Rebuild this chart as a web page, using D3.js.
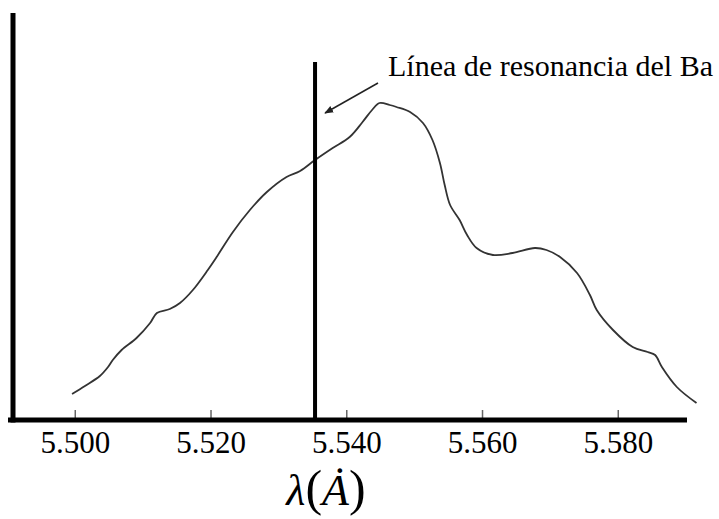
<!DOCTYPE html>
<html>
<head>
<meta charset="utf-8">
<title>Linea de resonancia del Ba</title>
<script src="https://cdn.jsdelivr.net/npm/d3@7"></script>
<style>
  body { margin: 0; background: #fff; }
  svg text { font-family: "Liberation Serif", "Times New Roman", serif; fill: #000; }
</style>
</head>
<body>
<script>
// wavelength (in units of the axis) and relative intensity
var wavelength = [5.4996, 5.5015, 5.5037, 5.5049, 5.5056, 5.5069, 5.5091, 5.5111, 5.5121, 5.5140,
                  5.5155, 5.5174, 5.5196, 5.5209, 5.5233, 5.5258, 5.5283, 5.5312, 5.5332, 5.5354,
                  5.5380, 5.5405, 5.5424, 5.5438, 5.5449, 5.5464, 5.5474, 5.5494, 5.5513, 5.5527,
                  5.5538, 5.5545, 5.5553, 5.5567, 5.5578, 5.5592, 5.5616, 5.5645, 5.5678, 5.5695,
                  5.5715, 5.5740, 5.5759, 5.5769, 5.5793, 5.5822, 5.5844, 5.5855, 5.5865, 5.5887,
                  5.5916];
var intensity = [6.5, 8.5, 11, 13.25, 15, 17.5, 20.5, 24.25, 26.75, 27.75,
                 29.25, 32.5, 37.5, 40.75, 47, 52.5, 57, 60.75, 62.25, 65,
                 68, 70.75, 74.5, 77.5, 79.25, 78.75, 78.25, 77, 74.25, 70,
                 64.25, 58.75, 53.75, 50, 46.25, 43, 41.25, 41.75, 43, 42.5,
                 40.75, 36.75, 31.25, 27.5, 22.5, 18.25, 17, 16.25, 13.25, 8.25,
                 4.25];
var tickValues = [5.500, 5.520, 5.540, 5.560, 5.580];
var tickLabels = ["5.500", "5.520", "5.540", "5.560", "5.580"];
var baLine = 5.5354;
var baLabel = "Línea de resonancia del Ba";

var W = 719, H = 519;
var x0 = 13, x1 = 687, yBase = 420, yTop = 13;
var serif = "'Liberation Serif', 'Times New Roman', serif";

var x = d3.scaleLinear().domain([5.4909, 5.5902]).range([x0, x1]);
var y = d3.scaleLinear().domain([0, 100]).range([yBase, 20]);

var svg = d3.select("body").append("svg")
    .attr("width", W)
    .attr("height", H);

// ticks (pointing up, inside the plot)
var axis = d3.axisBottom(x)
    .tickValues(tickValues)
    .tickFormat(function(d, i) { return tickLabels[i]; })
    .tickSizeInner(-9)
    .tickSizeOuter(0)
    .tickPadding(10);

var gx = svg.append("g")
    .attr("transform", "translate(0," + (yBase - 1) + ")")
    .attr("font-family", serif)
    .call(axis);
gx.attr("font-family", serif);
gx.select(".domain").remove();
gx.selectAll(".tick line").attr("stroke", "#666").attr("stroke-width", 1.5);
gx.selectAll(".tick text")
    .style("font-family", serif)
    .style("font-size", "31px")
    .attr("y", 34)
    .attr("dy", null);

// axes
svg.append("line")
    .attr("x1", x0).attr("x2", x0)
    .attr("y1", yTop).attr("y2", yBase + 2.5)
    .attr("stroke", "#000").attr("stroke-width", 5);
svg.append("line")
    .attr("x1", x0 - 5).attr("x2", x1)
    .attr("y1", yBase).attr("y2", yBase)
    .attr("stroke", "#000").attr("stroke-width", 5);

// spectrum
var line = d3.line()
    .x(function(d, i) { return x(wavelength[i]); })
    .y(function(d) { return y(d); })
    .curve(d3.curveCatmullRom);

svg.append("path")
    .attr("d", line(intensity))
    .attr("fill", "none")
    .attr("stroke", "#333")
    .attr("stroke-width", 1.8);

// Ba resonance line
svg.append("line")
    .attr("x1", x(baLine)).attr("x2", x(baLine))
    .attr("y1", 62).attr("y2", yBase)
    .attr("stroke", "#000").attr("stroke-width", 4);

// arrow + label
svg.append("defs").append("marker")
    .attr("id", "head")
    .attr("viewBox", "0 0 10 10")
    .attr("refX", 9).attr("refY", 5)
    .attr("markerWidth", 9).attr("markerHeight", 9)
    .attr("markerUnits", "userSpaceOnUse")
    .attr("orient", "auto")
    .append("path")
    .attr("d", "M0,1 L10,5 L0,9 Z")
    .attr("fill", "#222");

svg.append("line")
    .attr("x1", 378).attr("y1", 83)
    .attr("x2", x(baLine) + 10).attr("y2", 113)
    .attr("stroke", "#222").attr("stroke-width", 1.5)
    .attr("marker-end", "url(#head)");

svg.append("text")
    .attr("x", 388).attr("y", 76)
    .style("font-size", "29px")
    .attr("textLength", 325)
    .attr("lengthAdjust", "spacingAndGlyphs")
    .text(baLabel);

// axis title
var title = svg.append("text")
    .attr("x", 326).attr("y", 505)
    .attr("text-anchor", "middle")
    .style("font-size", "44px");
title.append("tspan").attr("font-style", "italic").text("λ");
title.append("tspan").style("font-size", "50px").text("(");
title.append("tspan").attr("font-style", "italic").text("\u0226");
title.append("tspan").style("font-size", "50px").text(")");
</script>
</body>
</html>
